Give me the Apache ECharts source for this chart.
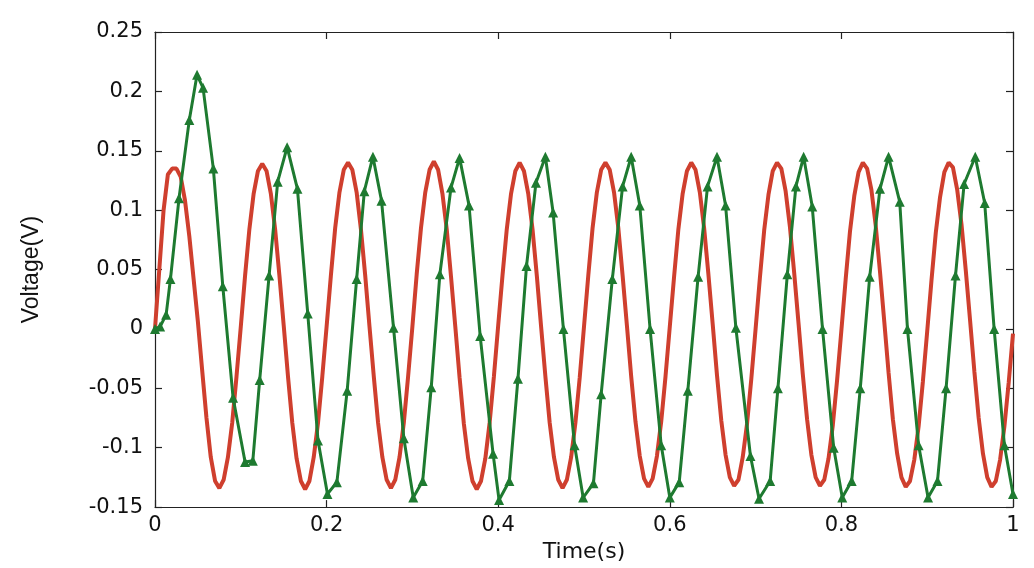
<!DOCTYPE html>
<html>
<head>
<meta charset="utf-8">
<script src="https://cdn.jsdelivr.net/npm/echarts@6/dist/echarts.min.js"></script>
<style>
html,body{margin:0;padding:0;background:#fff;}
#chart{width:1034px;height:568px;}
</style>
</head>
<body>
<div id="chart"></div>
<script>
// Red trace sampled every 0.005 s from t = 0 to t = 1
const redStep = 0.005;
const redVoltage = [
  0.000, 0.050, 0.100, 0.130, 0.135, 0.135, 0.128, 0.108, 0.078, 0.042, 0.006, -0.035, -0.075, -0.108, -0.128, -0.134, -0.127, -0.108, -0.079, -0.040,
  0.002, 0.045, 0.084, 0.114, 0.133, 0.139, 0.133, 0.114, 0.084, 0.045, 0.003, -0.040, -0.079, -0.109, -0.128, -0.135, -0.128, -0.108, -0.079, -0.040,
  0.002, 0.045, 0.085, 0.115, 0.134, 0.140, 0.134, 0.115, 0.084, 0.045, 0.002, -0.040, -0.079, -0.108, -0.127, -0.134, -0.127, -0.108, -0.079, -0.040,
  0.002, 0.046, 0.085, 0.115, 0.134, 0.141, 0.134, 0.114, 0.084, 0.044, 0.002, -0.041, -0.080, -0.109, -0.128, -0.135, -0.128, -0.109, -0.079, -0.040,
  0.003, 0.045, 0.084, 0.114, 0.133, 0.140, 0.133, 0.114, 0.084, 0.045, 0.002, -0.040, -0.079, -0.108, -0.127, -0.134, -0.127, -0.108, -0.079, -0.041,
  0.002, 0.045, 0.085, 0.115, 0.134, 0.140, 0.134, 0.115, 0.085, 0.045, 0.003, -0.040, -0.078, -0.107, -0.126, -0.133, -0.126, -0.107, -0.078, -0.040,
  0.002, 0.044, 0.084, 0.114, 0.133, 0.140, 0.134, 0.115, 0.085, 0.046, 0.004, -0.039, -0.077, -0.106, -0.125, -0.132, -0.127, -0.108, -0.080, -0.042,
  0.000, 0.043, 0.083, 0.113, 0.133, 0.140, 0.135, 0.116, 0.086, 0.047, 0.005, -0.038, -0.076, -0.106, -0.125, -0.132, -0.127, -0.109, -0.081, -0.043,
  -0.001, 0.042, 0.082, 0.112, 0.132, 0.140, 0.135, 0.117, 0.087, 0.048, 0.006, -0.037, -0.076, -0.105, -0.125, -0.133, -0.128, -0.110, -0.082, -0.044,
  -0.002, 0.041, 0.081, 0.111, 0.132, 0.140, 0.136, 0.117, 0.088, 0.049, 0.007, -0.036, -0.075, -0.105, -0.125, -0.133, -0.128, -0.110, -0.082, -0.045,
  -0.004
];

// Green trace (triangle markers), irregular solver steps
const greenTime = [
  0.000, 0.006, 0.013, 0.018, 0.028, 0.040, 0.049, 0.056, 0.068, 0.079, 0.091,
  0.105, 0.114, 0.122, 0.133, 0.143, 0.154, 0.166, 0.178, 0.190,
  0.201, 0.212, 0.224, 0.235, 0.244, 0.254, 0.264, 0.278, 0.290,
  0.301, 0.312, 0.322, 0.332, 0.345, 0.355, 0.366, 0.379, 0.394,
  0.401, 0.413, 0.423, 0.433, 0.444, 0.455, 0.464, 0.476, 0.489,
  0.499, 0.511, 0.520, 0.533, 0.545, 0.555, 0.565, 0.577, 0.590,
  0.600, 0.611, 0.621, 0.633, 0.644, 0.655, 0.665, 0.677, 0.694,
  0.704, 0.717, 0.726, 0.737, 0.747, 0.756, 0.766, 0.778, 0.791,
  0.801, 0.812, 0.822, 0.833, 0.845, 0.855, 0.868, 0.877, 0.890,
  0.901, 0.912, 0.922, 0.933, 0.943, 0.956, 0.967, 0.978, 0.990,
  1.000
];
const greenVoltage = [
  0.000, 0.002, 0.012, 0.042, 0.110, 0.176, 0.214, 0.203, 0.135, 0.036, -0.058,
  -0.112, -0.111, -0.043, 0.045, 0.124, 0.153, 0.118, 0.013, -0.094,
  -0.139, -0.129, -0.052, 0.042, 0.116, 0.145, 0.108, 0.001, -0.092,
  -0.142, -0.128, -0.049, 0.046, 0.119, 0.144, 0.104, -0.006, -0.105,
  -0.144, -0.128, -0.042, 0.053, 0.123, 0.145, 0.098, 0.000, -0.098,
  -0.142, -0.130, -0.055, 0.042, 0.120, 0.145, 0.104, 0.000, -0.098,
  -0.142, -0.129, -0.052, 0.044, 0.120, 0.145, 0.104, 0.001, -0.107,
  -0.143, -0.128, -0.050, 0.046, 0.120, 0.145, 0.103, 0.000, -0.100,
  -0.142, -0.128, -0.050, 0.044, 0.118, 0.145, 0.107, 0.000, -0.098,
  -0.142, -0.128, -0.050, 0.045, 0.122, 0.145, 0.106, 0.000, -0.098,
  -0.139
];

const xTicks = { min: 0, max: 1, interval: 0.2 };
const yTicks = { min: -0.15, max: 0.25, interval: 0.05 };

const redData = redVoltage.map((v, i) => [+(i * redStep).toFixed(3), v]);
const greenData = greenTime.map((t, i) => [t, greenVoltage[i]]);

const labelFont = { fontFamily: 'DejaVu Sans', fontSize: 21, color: '#111' };
const lineStyle = { color: '#222', width: 1.2 };
const tickStyle = { show: true, inside: true, length: 7, lineStyle: { color: '#222', width: 1.2 } };

const chart = echarts.init(document.getElementById('chart'));
chart.setOption({
  animation: false,
  backgroundColor: '#ffffff',
  grid: { left: 155, right: 21, top: 32, bottom: 60, containLabel: false },
  xAxis: [
    {
      type: 'value', position: 'bottom', min: xTicks.min, max: xTicks.max, interval: xTicks.interval,
      name: 'Time(s)', nameLocation: 'middle', nameGap: 32,
      nameTextStyle: { fontFamily: 'DejaVu Sans', fontSize: 22, color: '#111' },
      axisLine: { show: true, onZero: false, lineStyle: lineStyle },
      axisTick: tickStyle,
      axisLabel: Object.assign({ margin: 8 }, labelFont),
      splitLine: { show: false }
    },
    {
      type: 'value', position: 'top', min: xTicks.min, max: xTicks.max, interval: xTicks.interval,
      axisLine: { show: true, onZero: false, lineStyle: lineStyle },
      axisTick: tickStyle,
      axisLabel: { show: false },
      splitLine: { show: false }
    }
  ],
  yAxis: [
    {
      type: 'value', position: 'left', min: yTicks.min, max: yTicks.max, interval: yTicks.interval,
      name: 'Voltage(V)', nameLocation: 'middle', nameGap: 112, nameRotate: 90,
      nameTextStyle: { fontFamily: 'Liberation Sans', fontSize: 23, color: '#111' },
      axisLine: { show: true, onZero: false, lineStyle: lineStyle },
      axisTick: tickStyle,
      axisLabel: Object.assign({ margin: 12 }, labelFont),
      splitLine: { show: false }
    },
    {
      type: 'value', position: 'right', min: yTicks.min, max: yTicks.max, interval: yTicks.interval,
      axisLine: { show: true, onZero: false, lineStyle: lineStyle },
      axisTick: tickStyle,
      axisLabel: { show: false },
      splitLine: { show: false }
    }
  ],
  series: [
    {
      name: 'red', type: 'line', xAxisIndex: 0, yAxisIndex: 0,
      data: redData, showSymbol: false, symbol: 'none',
      lineStyle: { color: '#cf3f2e', width: 4 },
      z: 2
    },
    {
      name: 'green', type: 'line', xAxisIndex: 0, yAxisIndex: 0,
      data: greenData, symbol: 'triangle', symbolSize: 10, showSymbol: true,
      lineStyle: { color: '#1e7a30', width: 3 },
      itemStyle: { color: '#1e7a30' },
      z: 3
    }
  ]
});
</script>
</body>
</html>
